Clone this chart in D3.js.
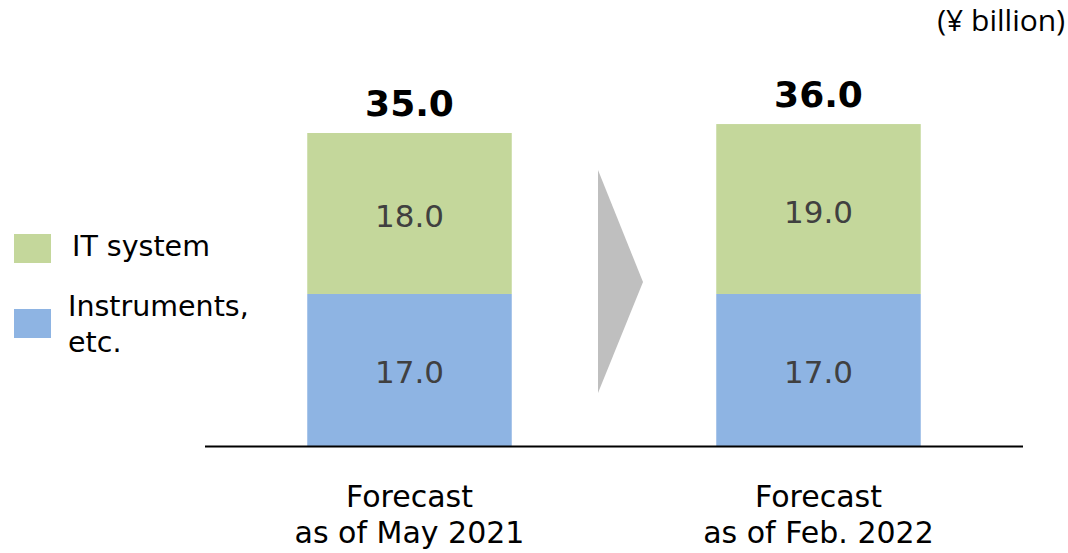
<!DOCTYPE html>
<html>
<head>
<meta charset="utf-8">
<script src="https://cdn.jsdelivr.net/npm/d3@7"></script>
<style>
  body { margin: 0; background: #fff; }
  svg text { font-family: "DejaVu Sans", Verdana, sans-serif; }
</style>
</head>
<body>
<svg id="chart"></svg>
<script>
var categories = ["Forecast\nas of May 2021", "Forecast\nas of Feb. 2022"];
var seriesNames = ["Instruments,\netc.", "IT system"];
var instruments = [17.0, 17.0];
var itSystem = [18.0, 19.0];
var totals = [35.0, 36.0];
var unitLabel = "(¥ billion)";

var width = 1068,
  height = 553;

var colors = ["#8eb4e3", "#c4d79b"];

var svg = d3.select("#chart")
  .attr("width", width)
  .attr("height", height);

var x = d3.scaleBand()
  .domain(d3.range(categories.length))
  .range([205, 1023])
  .paddingInner(0.5)
  .paddingOuter(0.25);

var y = d3.scaleLinear()
  .domain([0, 35])
  .range([446, 133]);

var rows = categories.map(function (c, i) {
  return { i: i, cat: c, instruments: instruments[i], it: itSystem[i], total: totals[i] };
});
var stack = d3.stack().keys(["instruments", "it"])(rows);

var layers = svg.selectAll("g.layer")
    .data(stack)
  .enter().append("g")
    .attr("class", "layer")
    .attr("fill", function (d, i) { return colors[i]; });

layers.selectAll("rect")
    .data(function (d) { return d; })
  .enter().append("rect")
    .attr("x", function (d) { return x(d.data.i); })
    .attr("width", x.bandwidth())
    .attr("y", function (d) { return y(d[1]); })
    .attr("height", function (d) { return y(d[0]) - y(d[1]); });

// segment values
layers.selectAll("text")
    .data(function (d) { return d; })
  .enter().append("text")
    .attr("x", function (d) { return x(d.data.i) + x.bandwidth() / 2; })
    .attr("y", function (d) { return (y(d[0]) + y(d[1])) / 2 + 13.5; })
    .attr("text-anchor", "middle")
    .attr("fill", "#404040")
    .style("font-size", "31px")
    .text(function (d) { return (d[1] - d[0]).toFixed(1); });

// totals
svg.selectAll("text.total")
    .data(rows)
  .enter().append("text")
    .attr("class", "total")
    .attr("x", function (d) { return x(d.i) + x.bandwidth() / 2; })
    .attr("y", function (d) { return y(d.total) - 17; })
    .attr("text-anchor", "middle")
    .style("font-size", "36px")
    .style("font-weight", "bold")
    .text(function (d) { return d.total.toFixed(1); });

// baseline
svg.append("line")
  .attr("x1", 205).attr("x2", 1023)
  .attr("y1", y(0) + 0.5).attr("y2", y(0) + 0.5)
  .attr("stroke", "#000")
  .attr("stroke-width", 2);

// category labels
svg.selectAll("text.cat")
    .data(rows)
  .enter().append("text")
    .attr("class", "cat")
    .attr("text-anchor", "middle")
    .style("font-size", "30px")
    .each(function (d) {
      var t = d3.select(this);
      d.cat.split("\n").forEach(function (line, k) {
        t.append("tspan")
          .attr("x", x(d.i) + x.bandwidth() / 2)
          .attr("y", 507 + k * 36)
          .text(line);
      });
    });

// arrow between bars
var ax = x(0) + x.bandwidth() + (x(1) - x(0) - x.bandwidth()) / 2 - 5;
svg.append("polygon")
  .attr("points", [[ax - 11, 170], [ax + 34, 282], [ax - 11, 393]].join(" "))
  .attr("fill", "#bfbfbf");

// legend
var legend = svg.selectAll("g.legend")
    .data([1, 0])
  .enter().append("g")
    .attr("class", "legend")
    .attr("transform", function (d, k) { return "translate(14," + (234 + k * 75) + ")"; });

legend.append("rect")
  .attr("width", 37)
  .attr("height", 29)
  .attr("fill", function (d) { return colors[d]; });

legend.append("text")
  .style("font-size", "28.5px")
  .each(function (d, k) {
    var t = d3.select(this);
    seriesNames[d].split("\n").forEach(function (line, j) {
      t.append("tspan")
        .attr("x", k === 0 ? 58 : 54)
        .attr("y", (k === 0 ? 22 : 7) + j * 36)
        .text(line);
    });
  });

// unit
svg.append("text")
  .attr("x", 1065)
  .attr("y", 31)
  .attr("text-anchor", "end")
  .style("font-family", "'Open Sans', sans-serif")
  .style("font-size", "30px")
  .text(unitLabel);
</script>
</body>
</html>
